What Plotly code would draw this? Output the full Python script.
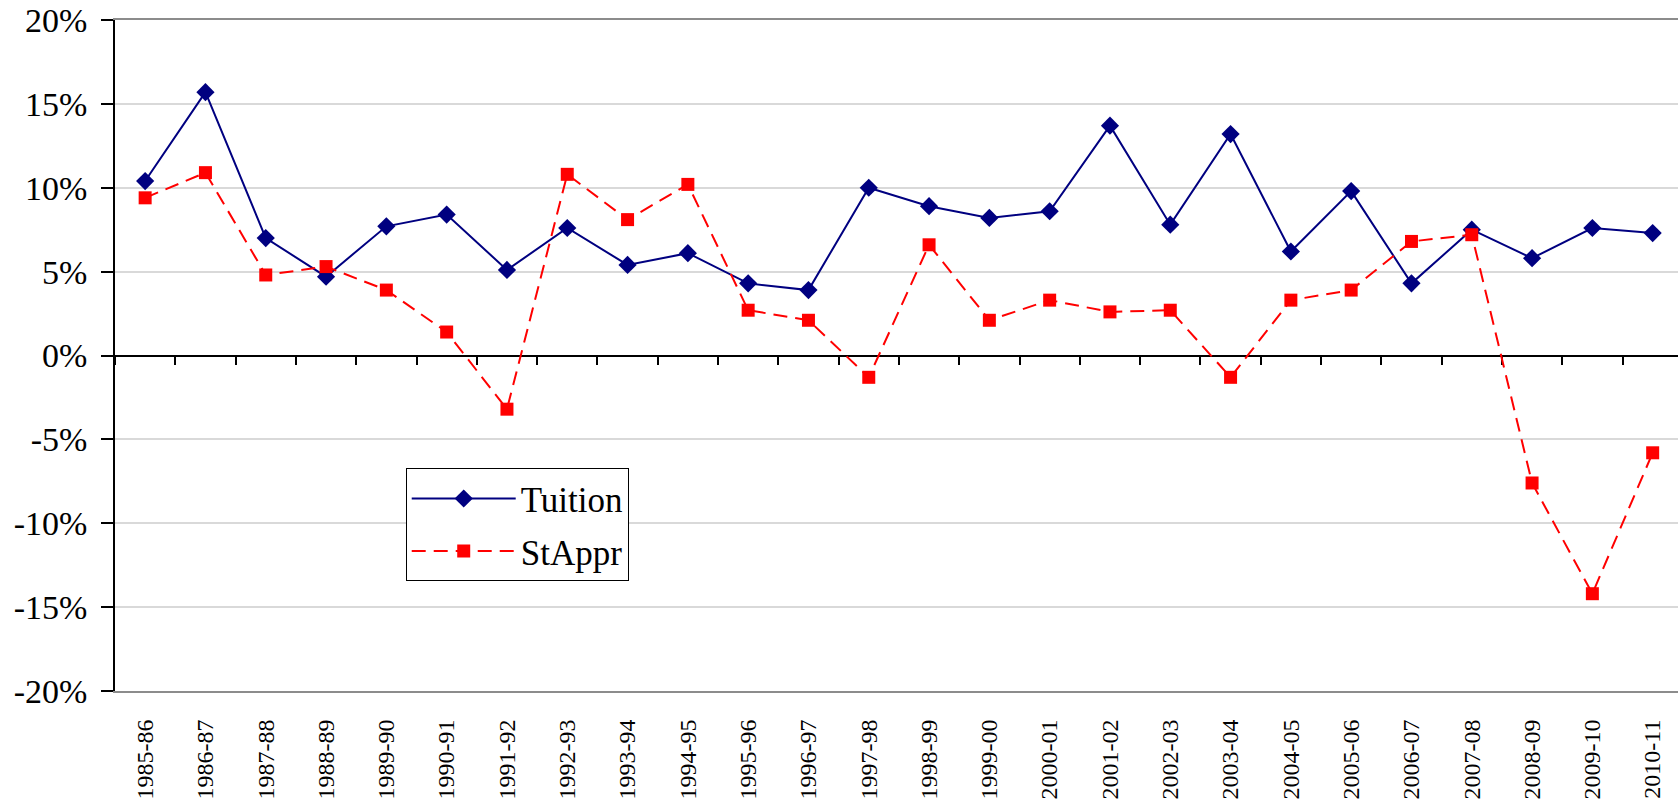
import plotly.graph_objects as go

years = ["1985-86", "1986-87", "1987-88", "1988-89", "1989-90", "1990-91", "1991-92",
         "1992-93", "1993-94", "1994-95", "1995-96", "1996-97", "1997-98", "1998-99",
         "1999-00", "2000-01", "2001-02", "2002-03", "2003-04", "2004-05", "2005-06",
         "2006-07", "2007-08", "2008-09", "2009-10", "2010-11"]

tuition = [10.4, 15.7, 7.0, 4.7, 7.7, 8.4, 5.1, 7.6, 5.4, 6.1, 4.3, 3.9, 10.0, 8.9,
           8.2, 8.6, 13.7, 7.8, 13.2, 6.2, 9.8, 4.3, 7.5, 5.8, 7.6, 7.3]

stappr = [9.4, 10.9, 4.8, 5.3, 3.9, 1.4, -3.2, 10.8, 8.1, 10.2, 2.7, 2.1, -1.3, 6.6,
          2.1, 3.3, 2.6, 2.7, -1.3, 3.3, 3.9, 6.8, 7.2, -7.6, -14.2, -5.8]

y_ticks = [-20, -15, -10, -5, 0, 5, 10, 15, 20]
y_tick_text = ["-20%", "-15%", "-10%", "-5%", "0%", "5%", "10%", "15%", "20%"]

FONT = "Liberation Serif, Times New Roman, serif"
X_RANGE = [-0.5, 25.42]

fig = go.Figure()
fig.add_trace(go.Scatter(
    x=years, y=tuition, name="Tuition", mode="lines+markers",
    legendgroup="tuition",
    line=dict(color="#000080", width=2),
    marker=dict(symbol="diamond", size=14, color="#000080"),
))
fig.add_trace(go.Scatter(
    x=years, y=stappr, name="StAppr", mode="lines+markers",
    legendgroup="stappr",
    line=dict(color="#FF0000", width=2, dash="14px,8px"),
    marker=dict(symbol="square", size=13, color="#FF0000"),
))
# empty helper trace so the zero-crossing category axis (ticks at 0%) is drawn
fig.add_trace(go.Scatter(
    x=[None], y=[None], xaxis="x2", yaxis="y", mode="lines",
    showlegend=False, hoverinfo="skip",
))

fig.update_layout(
    width=1678, height=808,
    margin=dict(l=115, r=0, t=20, b=117, autoexpand=False),
    paper_bgcolor="white", plot_bgcolor="white",
    font=dict(family=FONT, color="black"),
    showlegend=True,
    legend=dict(
        x=0.186, y=0.332, xanchor="left", yanchor="top",
        bgcolor="white", bordercolor="black", borderwidth=1,
        font=dict(family=FONT, size=35, color="black"),
        traceorder="grouped", tracegroupgap=4,
        itemwidth=104,
    ),
    xaxis=dict(
        type="category", categoryorder="array", categoryarray=years,
        range=X_RANGE, automargin=False,
        showline=True, linecolor="#8c8c8c", linewidth=2, mirror=True,
        ticks="", showgrid=False, zeroline=False,
        tickangle=-90, tickfont=dict(family=FONT, size=24, color="black"),
        ticklabelstandoff=17,
    ),
    xaxis2=dict(
        type="linear", overlaying="x", anchor="free", position=0.5,
        range=X_RANGE, tick0=-0.5, dtick=1, automargin=False,
        showline=True, linecolor="black", linewidth=1.5,
        ticks="outside", ticklen=9, tickcolor="black", tickwidth=1.5,
        showticklabels=False, showgrid=False, zeroline=False,
        layer="below traces",
    ),
    yaxis=dict(
        range=[-20, 20], tickvals=y_ticks, ticktext=y_tick_text,
        automargin=False,
        showline=True, linecolor="black", linewidth=1.5,
        ticks="outside", ticklen=12, tickcolor="black", tickwidth=1.5,
        showgrid=True, gridcolor="#d9d9d9", gridwidth=1.5, zeroline=False,
        tickfont=dict(family=FONT, size=34, color="black"),
        ticklabelstandoff=7, ticklabeloverflow="allow",
    ),
)

fig.write_html(
    "out.html",
    config={"displayModeBar": False},
    post_script="document.body.style.margin='0';",
)
